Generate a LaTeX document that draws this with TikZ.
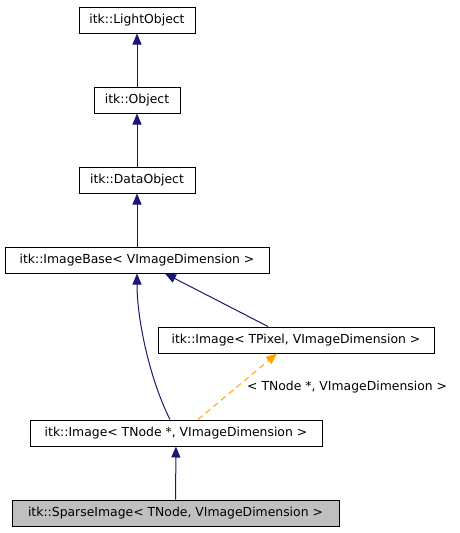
\documentclass[tikz,border=0pt]{standalone}
\usepackage{fontspec}
\setmainfont{DejaVu Sans}
\usetikzlibrary{arrows.meta}
\definecolor{edgeblue}{HTML}{191970}
\definecolor{dashorange}{HTML}{FFA500}
\definecolor{leafgray}{HTML}{BFBFBF}
\begin{document}
\begin{tikzpicture}[x=1pt,y=-1pt,
  lbl/.style={font=\fontsize{12.4}{14}\selectfont},
  cls/.style={lbl,draw=black,line width=1pt,fill=white,inner sep=0pt},
  inh/.style={draw=edgeblue,line width=1pt,-{Triangle[length=11pt,width=9pt]}},
  tmpl/.style={draw=dashorange,line width=1pt,dash pattern=on 6pt off 4pt,-{Triangle[length=11pt,width=9pt]}}]
\useasboundingbox (0,0) rectangle (460,533);
\node[cls,minimum width=116pt,minimum height=26pt] (lo) at (137,20) {itk::LightObject};
\node[cls,minimum width=86pt,minimum height=26pt] (ob) at (137,100) {itk::Object};
\node[cls,minimum width=116pt,minimum height=26pt] (do) at (137,180) {itk::DataObject};
\node[cls,minimum width=264pt,minimum height=26pt] (ib) at (137,260) {itk::ImageBase< VImageDimension >};
\node[cls,minimum width=276pt,minimum height=26pt] (ip) at (296,340) {itk::Image< TPixel, VImageDimension >};
\node[cls,minimum width=292pt,minimum height=26pt] (in) at (176,433) {itk::Image< TNode *, VImageDimension >};
\node[cls,fill=leafgray,minimum width=327pt,minimum height=26pt] (sp) at (175.5,513) {itk::SparseImage< TNode, VImageDimension >};
\draw[inh] (ob) -- (lo);
\draw[inh] (do) -- (ob);
\draw[inh] (ib) -- (do);
\draw[inh] (ip.north -| 268,0) -- (ib.south -| 165,0);
\draw[inh] (in.north -| 170,0) .. controls (150,380) and (137,320) .. (ib.south -| 137,0);
\draw[tmpl] (in.north -| 198,0) -- (ip.south -| 277,0);
\node[lbl,anchor=west,inner sep=0pt] (tl) at (247,387) {< TNode *, VImageDimension >};
\draw[inh] (sp) -- (in);
\end{tikzpicture}
\end{document}
